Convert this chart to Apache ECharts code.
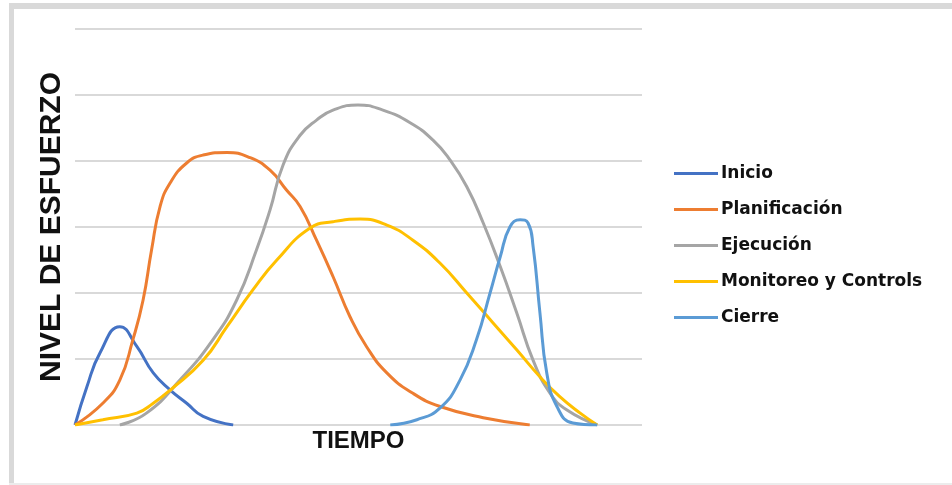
<!DOCTYPE html>
<html>
<head>
<meta charset="utf-8">
<script src="https://cdn.jsdelivr.net/npm/echarts@6/dist/echarts.min.js"></script>
<style>
  html, body { margin: 0; padding: 0; background: #fff; }
  #chart { width: 952px; height: 485px; }
</style>
</head>
<body>
<div id="chart"></div>
<script>
// curves as [tiempo, esfuerzo] pairs
const seriesNames = ["Inicio", "Planificación", "Ejecución", "Monitoreo y Controls", "Cierre"];
const colors = ["#4472C4", "#ED7D31", "#A5A5A5", "#FFC000", "#5B9BD5"];

const inicio = [
  [0, 0], [2.1, 0.58], [4.4, 1.09], [7.9, 1.49], [10.9, 1.19], [13.8, 0.79],
  [16.8, 0.53], [19.7, 0.33], [22.6, 0.13], [27.9, 0],
];
const planificacion = [
  [0, 0], [4.9, 0.33], [7.9, 0.68], [10.2, 1.29], [12.0, 1.89], [13.5, 2.65],
  [15.0, 3.31], [16.8, 3.67], [19.7, 3.97], [22.6, 4.09], [26.8, 4.13], [30.9, 4.05],
  [34.4, 3.86], [37.3, 3.56], [39.7, 3.31], [42.6, 2.8], [45.5, 2.25], [48.5, 1.64],
  [51.4, 1.19], [55.0, 0.79], [59.6, 0.48], [64.4, 0.28], [72.0, 0.11], [80.2, 0],
];
const ejecucion = [
  [7.9, 0], [12.6, 0.18], [18.5, 0.68], [24.3, 1.29], [28.5, 1.89], [32.0, 2.65],
  [34.4, 3.26], [36.7, 3.94], [39.7, 4.39], [42.6, 4.62], [45.5, 4.77], [49.9, 4.85],
  [54.3, 4.77], [59.1, 4.58], [63.1, 4.32], [66.1, 4.02], [69.1, 3.61], [72.0, 3.06],
  [75.0, 2.4], [77.9, 1.7], [80.8, 0.98], [83.8, 0.48], [86.7, 0.23], [92.1, 0],
];
const monitoreo = [
  [0, 0], [4.9, 0.08], [10.9, 0.18], [13.8, 0.33], [16.8, 0.53], [22.6, 0.98],
  [26.8, 1.49], [31.4, 2.05], [35.6, 2.5], [41.4, 2.98], [45.5, 3.08], [50.3, 3.12],
  [55.0, 3.03], [59.6, 2.8], [64.4, 2.45], [69.1, 2.0], [73.7, 1.55], [77.9, 1.14],
  [82.0, 0.73], [85.5, 0.43], [89.1, 0.18], [92.1, 0],
];
const cierre = [
  [55.6, 0], [60.3, 0.08], [64.4, 0.26], [67.9, 0.68], [70.8, 1.29], [73.2, 2.0],
  [75.0, 2.55], [76.7, 3.0], [78.5, 3.11], [79.9, 3.06], [80.8, 2.7], [82.0, 1.7],
  [83.2, 0.79], [85.0, 0.28], [87.8, 0.03], [92.1, 0],
];
const seriesData = [inicio, planificacion, ejecucion, monitoreo, cierre];

const chart = echarts.init(document.getElementById("chart"), null, { renderer: "canvas" });

chart.setOption({
  animation: false,
  color: colors,
  grid: { left: 75, right: 310, top: 29, bottom: 60 },
  graphic: [
    { type: "rect", shape: { x: 9, y: 3, width: 943, height: 6 }, style: { fill: "#d9d9d9" } },
    { type: "rect", shape: { x: 9, y: 3, width: 5, height: 482 }, style: { fill: "#d9d9d9" } },
    { type: "rect", shape: { x: 9, y: 483, width: 943, height: 2 }, style: { fill: "#ececec" } },
  ],
  legend: {
    orient: "vertical",
    left: 674,
    top: 165,
    padding: 0,
    itemWidth: 44,
    itemHeight: 3,
    itemGap: 19,
    icon: "rect",
    data: seriesNames,
    textStyle: {
      color: "#111",
      fontFamily: "DejaVu Sans",
      fontWeight: "bold",
      fontSize: 17,
      padding: [0, 0, 0, -2],
    },
  },
  xAxis: {
    type: "value",
    min: 0,
    max: 100,
    name: "TIEMPO",
    nameLocation: "middle",
    nameGap: 4,
    nameTextStyle: {
      color: "#111",
      fontFamily: "Liberation Sans",
      fontWeight: "bold",
      fontSize: 24,
      verticalAlign: "top",
    },
    axisLine: { show: false },
    axisTick: { show: false },
    axisLabel: { show: false },
    splitLine: { show: false },
  },
  yAxis: {
    type: "value",
    min: 0,
    max: 6,
    interval: 1,
    name: "NIVEL DE ESFUERZO",
    nameLocation: "middle",
    nameGap: 8,
    nameTextStyle: {
      color: "#111",
      fontFamily: "Liberation Sans",
      fontWeight: "bold",
      fontSize: 30,
    },
    axisLine: { show: false },
    axisTick: { show: false },
    axisLabel: { show: false },
    splitLine: { lineStyle: { color: "#d9d9d9", width: 2 } },
  },
  series: seriesNames.map((name, i) => ({
    name,
    type: "line",
    data: seriesData[i],
    smooth: 0.5,
    symbol: "none",
    lineStyle: { width: 3 },
  })),
});
</script>
</body>
</html>
